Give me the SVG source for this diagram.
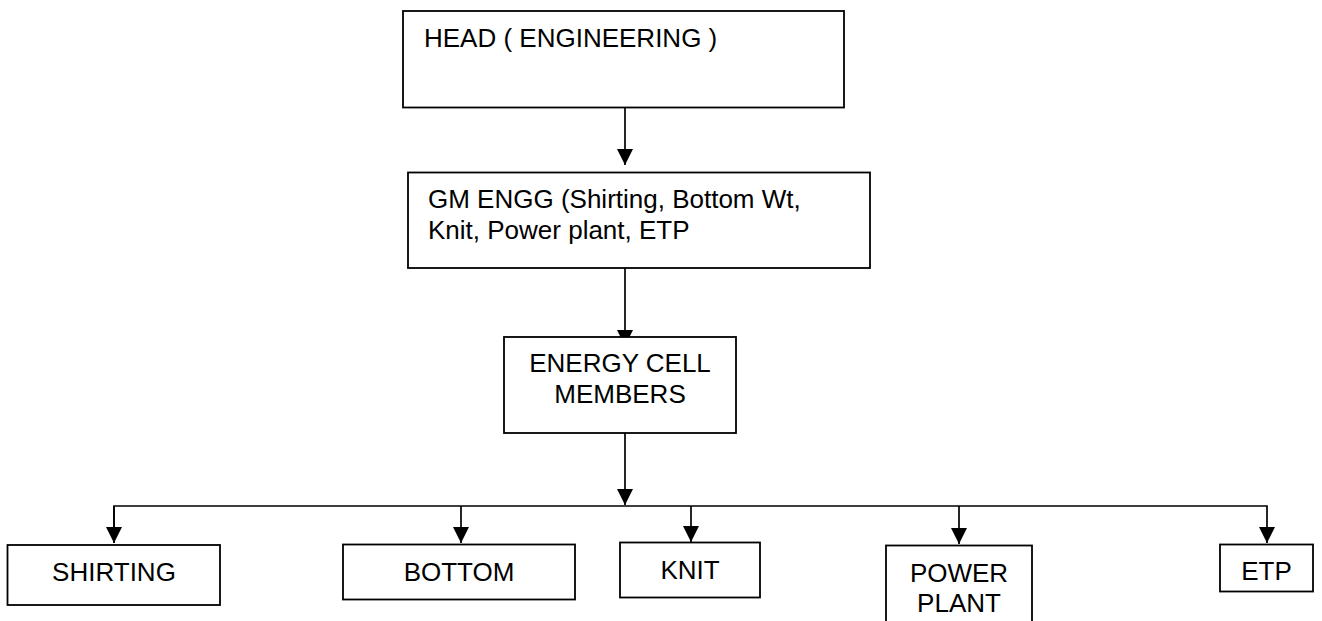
<svg xmlns="http://www.w3.org/2000/svg" width="1322" height="621" viewBox="0 0 1322 621">
<style>
.box{fill:#fff;stroke:#000;stroke-width:1.8}
.t{font-family:"Liberation Sans",Arial,sans-serif;font-size:26px;fill:#000}
.c{text-anchor:middle}
.ln{fill:none;stroke:#000;stroke-width:1.7}
</style>
<defs>
<marker id="arr" markerUnits="userSpaceOnUse" markerWidth="16" markerHeight="16" refX="15" refY="7.5" orient="auto" viewBox="0 0 15 15">
<path d="M0,0 L15,7.5 L0,15 z" fill="#000"/>
</marker>
</defs>
<rect width="1322" height="621" fill="#fff"/>
<g id="connectors">
<line class="ln" x1="625" y1="107" x2="625" y2="165" marker-end="url(#arr)"/>
<line class="ln" x1="625" y1="268" x2="625" y2="346" marker-end="url(#arr)"/>
<line class="ln" x1="625" y1="433" x2="625" y2="505" marker-end="url(#arr)"/>
<polyline class="ln" points="114,543 114,506 1267,506 1267,543" marker-start="none" marker-end="url(#arr)"/>
<line class="ln" x1="114" y1="506" x2="114" y2="543" marker-end="url(#arr)"/>
<line class="ln" x1="461" y1="506" x2="461" y2="543" marker-end="url(#arr)"/>
<line class="ln" x1="691" y1="506" x2="691" y2="542" marker-end="url(#arr)"/>
<line class="ln" x1="959" y1="506" x2="959" y2="544" marker-end="url(#arr)"/>
</g>
<g id="head">
<rect class="box" x="403" y="11" width="441" height="96.5"/>
<text class="t" x="424" y="46.5">HEAD ( ENGINEERING )</text>
</g>
<g id="gm">
<rect class="box" x="408" y="172.5" width="462" height="95.5"/>
<text class="t" x="428" y="207.5">GM ENGG (Shirting, Bottom Wt,</text>
<text class="t" x="428" y="238.5">Knit, Power plant, ETP</text>
</g>
<g id="energy">
<rect class="box" x="504" y="337" width="232" height="96"/>
<text class="t c" x="620" y="371.5">ENERGY CELL</text>
<text class="t c" x="620" y="402.5">MEMBERS</text>
</g>
<g id="shirting">
<rect class="box" x="7.5" y="545" width="212.5" height="60"/>
<text class="t c" x="114" y="580.5">SHIRTING</text>
</g>
<g id="bottom">
<rect class="box" x="343" y="544.5" width="232" height="55"/>
<text class="t c" x="459" y="580.5">BOTTOM</text>
</g>
<g id="knit">
<rect class="box" x="620" y="542.5" width="140" height="55"/>
<text class="t c" x="690" y="578.5">KNIT</text>
</g>
<g id="powerplant">
<rect class="box" x="886" y="545.5" width="146" height="90"/>
<text class="t c" x="959" y="581.5">POWER</text>
<text class="t c" x="959" y="611.5">PLANT</text>
</g>
<g id="etp">
<rect class="box" x="1220" y="544.5" width="93" height="47"/>
<text class="t c" x="1266.5" y="580">ETP</text>
</g>
</svg>
